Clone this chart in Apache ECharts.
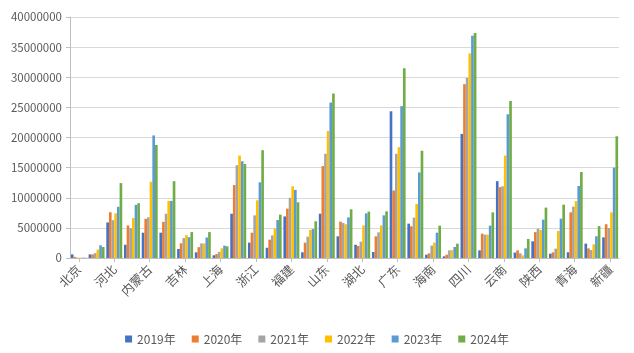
<!DOCTYPE html>
<html>
<head>
<meta charset="utf-8">
<script src="https://cdn.jsdelivr.net/npm/echarts@6/dist/echarts.min.js"></script>
<style>
  html, body { margin: 0; padding: 0; background: #fff; }
  #chart { width: 634px; height: 353px; }
</style>
</head>
<body>
<div id="chart"></div>
<script>
const provinces = ["北京", "天津", "河北", "山西", "内蒙古", "辽宁", "吉林", "黑龙江", "上海", "江苏",
  "浙江", "安徽", "福建", "江西", "山东", "河南", "湖北", "湖南", "广东", "广西",
  "海南", "重庆", "四川", "贵州", "云南", "西藏", "陕西", "甘肃", "青海", "宁夏", "新疆"];
const years = ["2019年", "2020年", "2021年", "2022年", "2023年", "2024年"];
const colors = ["#4472C4", "#ED7D31", "#A5A5A5", "#FFC000", "#5B9BD5", "#70AD47"];

const y2019 = [600000, 600000, 5900000, 2200000, 4200000, 4200000, 1500000, 950000, 450000, 7350000,
  2550000, 1700000, 6900000, 950000, 7350000, 3600000, 2200000, 1000000, 24350000, 5700000,
  550000, 280000, 20600000, 1270000, 12750000, 900000, 2770000, 720000, 950000, 2380000, 3430000];
const y2020 = [180000, 600000, 7600000, 5400000, 6500000, 6000000, 2450000, 1800000, 650000, 12100000,
  4200000, 3040000, 8200000, 2550000, 15250000, 6030000, 2000000, 3600000, 11200000, 5260000,
  770000, 550000, 28850000, 4040000, 11750000, 1270000, 4300000, 940000, 7580000, 1600000, 5600000];
const y2021 = [50000, 800000, 6280000, 4950000, 6750000, 7350000, 3300000, 2420000, 1020000, 15400000,
  7080000, 3760000, 10000000, 3540000, 17300000, 5800000, 2700000, 4260000, 17300000, 6700000,
  2050000, 1270000, 29900000, 3870000, 11900000, 770000, 4870000, 1550000, 8520000, 1330000, 4980000];
const y2022 = [50000, 1400000, 7400000, 6630000, 12650000, 9480000, 3800000, 2420000, 1600000, 17000000,
  9570000, 4900000, 11900000, 4650000, 21100000, 5600000, 5400000, 5400000, 18400000, 8970000,
  2550000, 1330000, 33950000, 3870000, 17000000, 440000, 4650000, 4480000, 9460000, 2270000, 7580000];
const y2023 = [50000, 2100000, 8500000, 8820000, 20350000, 9480000, 3450000, 3400000, 2050000, 16050000,
  12560000, 6300000, 11300000, 4800000, 25800000, 6750000, 7400000, 7080000, 25200000, 14200000,
  4200000, 1830000, 36900000, 5370000, 23850000, 1600000, 6360000, 6530000, 11950000, 3600000, 15000000];
const y2024 = [50000, 1820000, 12430000, 9090000, 18750000, 12750000, 4300000, 4300000, 1940000, 15600000,
  17900000, 7200000, 9240000, 6100000, 27300000, 8080000, 7700000, 7750000, 31500000, 17800000,
  5370000, 2380000, 37350000, 7580000, 26070000, 3150000, 8360000, 8850000, 14280000, 5300000, 20200000];
const seriesData = [y2019, y2020, y2021, y2022, y2023, y2024];

const yTicks = { min: 0, max: 40000000, interval: 5000000 };

const font = "'Noto Sans CJK SC', 'Noto Sans', sans-serif";
const chart = echarts.init(document.getElementById("chart"));
chart.setOption({
  animation: false,
  textStyle: { fontFamily: font },
  color: colors,
  grid: { left: 70, right: 15, top: 17, bottom: 95 },
  legend: {
    bottom: 3,
    left: "center",
    itemWidth: 7,
    itemHeight: 7,
    itemGap: 16,
    icon: "rect",
    textStyle: { color: "#595959", fontSize: 12, fontFamily: font },
    data: years
  },
  xAxis: {
    type: "category",
    data: provinces,
    axisLine: { lineStyle: { color: "#BFBFBF" } },
    axisTick: { show: true, interval: 1, alignWithLabel: true, length: 4, lineStyle: { color: "#BFBFBF" } },
    axisLabel: { interval: 1, rotate: 45, color: "#595959", fontSize: 12.5, margin: 9 }
  },
  yAxis: {
    type: "value",
    min: yTicks.min,
    max: yTicks.max,
    interval: yTicks.interval,
    axisLine: { show: true, lineStyle: { color: "#BFBFBF" } },
    axisTick: { show: true, length: 4, lineStyle: { color: "#BFBFBF" } },
    axisLabel: {
      color: "#595959",
      fontSize: 11.5,
      margin: 8,
      formatter: function (v) { return String(v); }
    },
    splitLine: { lineStyle: { color: "#D9D9D9" } }
  },
  series: years.map(function (name, i) {
    return {
      name: name,
      type: "bar",
      data: seriesData[i],
      barGap: "0%",
      barCategoryGap: "10%"
    };
  })
});
</script>
</body>
</html>
